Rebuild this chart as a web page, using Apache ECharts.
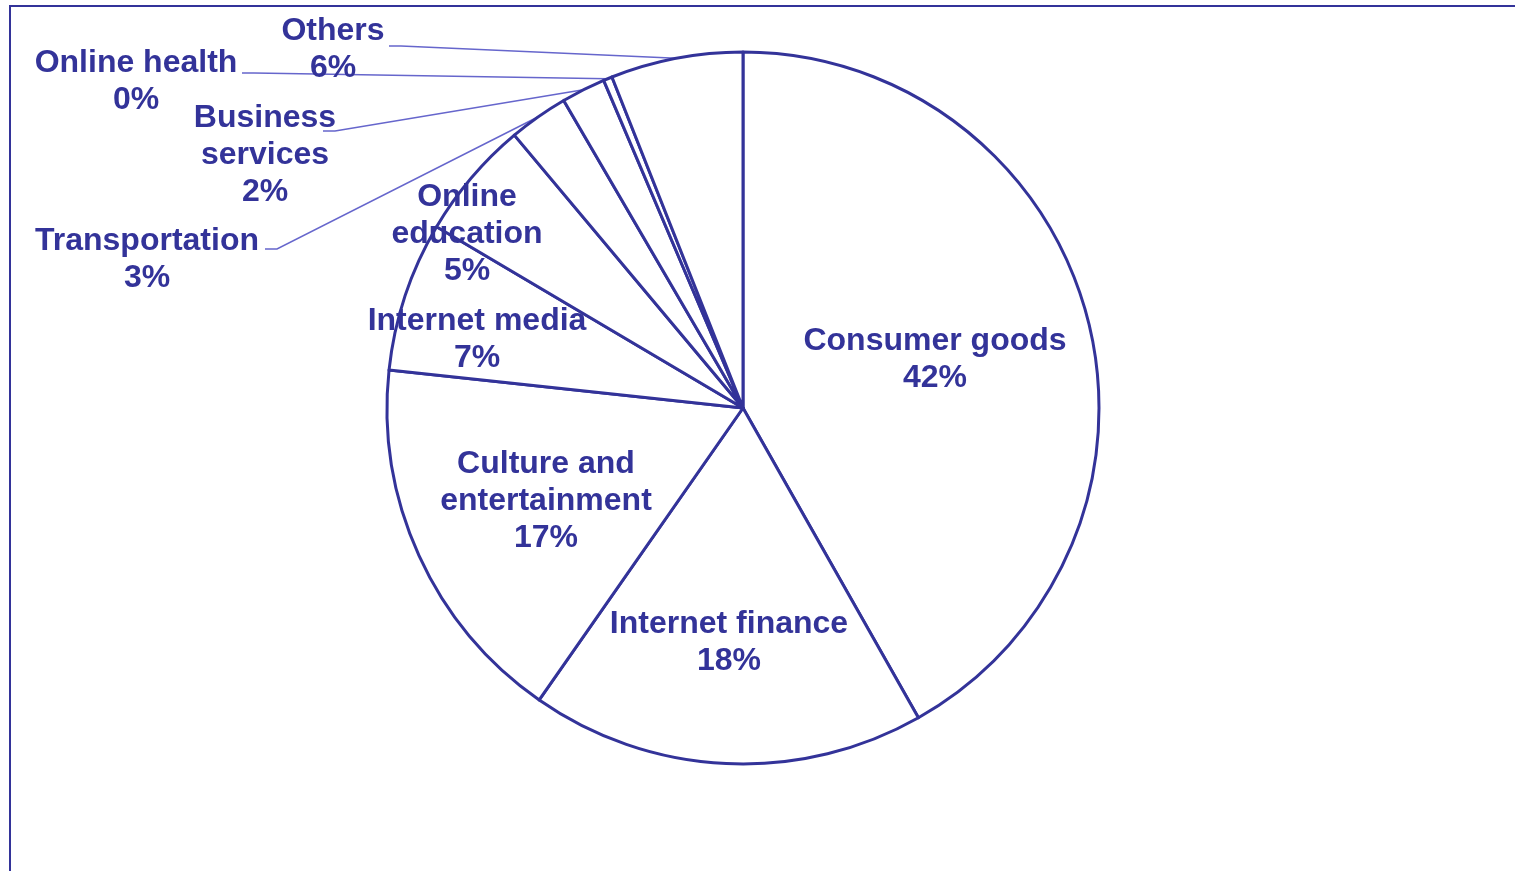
<!DOCTYPE html>
<html><head><meta charset="utf-8">
<script src="https://cdn.jsdelivr.net/npm/echarts@6/dist/echarts.min.js"></script>
<style>html,body{margin:0;padding:0;background:#fff}#c{width:1515px;height:871px}</style>
</head><body><div id="c"></div>
<script>
// ---- data ----
const categories = ['Consumer goods', 'Internet finance', 'Culture and entertainment', 'Internet media', 'Online education', 'Transportation', 'Business services', 'Online health', 'Others'];
const shares = [41.8, 17.9, 17.0, 6.8, 5.4, 2.7, 2.0, 0.4, 6.0];
const labelNames = ['Consumer goods', 'Internet finance', 'Culture and\nentertainment', 'Internet media', 'Online\neducation', 'Transportation', 'Business\nservices', 'Online health', 'Others'];
const outsideLabels = ['Transportation', 'Business services', 'Online health', 'Others'];

// ---- layout (label anchor centres and leader-line label ends, px) ----
const labelPos = [[935, 360], [729, 643], [546, 501], [477, 340], [467, 234], [147, 260], [265, 155], [136, 82], [333, 50]];
const leaderEnds = {5: [265, 249], 6: [323, 131], 7: [242, 73], 8: [389, 46]};

const BLUE = '#333399';
const chart = echarts.init(document.getElementById('c'), null, {renderer: 'canvas'});
const seriesData = categories.map((name, i) => {
  const outside = outsideLabels.indexOf(name) >= 0;
  return {
    name: name,
    value: shares[i],
    label: {position: outside ? 'outside' : 'inside'},
    labelLine: {show: outside}
  };
});
chart.setOption({
  animation: false,
  backgroundColor: '#fff',
  graphic: [{
    type: 'rect', z: -1,
    shape: {x: 10, y: 6, width: 1700, height: 1000},
    style: {fill: 'none', stroke: BLUE, lineWidth: 2}
  }],
  series: [{
    type: 'pie',
    center: [743, 408],
    radius: [0, 356],
    startAngle: 90,
    clockwise: true,
    avoidLabelOverlap: false,
    itemStyle: {color: '#fff', borderColor: BLUE, borderWidth: 3},
    emphasis: {disabled: true},
    label: {
      show: true,
      color: BLUE,
      fontFamily: 'Liberation Sans, Arial, sans-serif',
      fontWeight: 'bold',
      fontSize: 32,
      lineHeight: 37,
      align: 'center',
      formatter: p => labelNames[p.dataIndex] + '\n' + Math.round(p.percent) + '%'
    },
    labelLine: {
      length: 20, length2: 12,
      lineStyle: {color: '#6666cc', width: 1.5}
    },
    labelLayout: function (params) {
      const i = params.dataIndex;
      const pos = labelPos[i];
      const out = {x: pos[0], y: pos[1], align: 'center', verticalAlign: 'middle'};
      const end = leaderEnds[i];
      if (end && params.labelLinePoints) {
        const anchor = params.labelLinePoints[0];
        out.labelLinePoints = [anchor, [end[0] + 12, end[1]], end];
      }
      return out;
    },
    data: seriesData
  }]
});
</script>
</body></html>
